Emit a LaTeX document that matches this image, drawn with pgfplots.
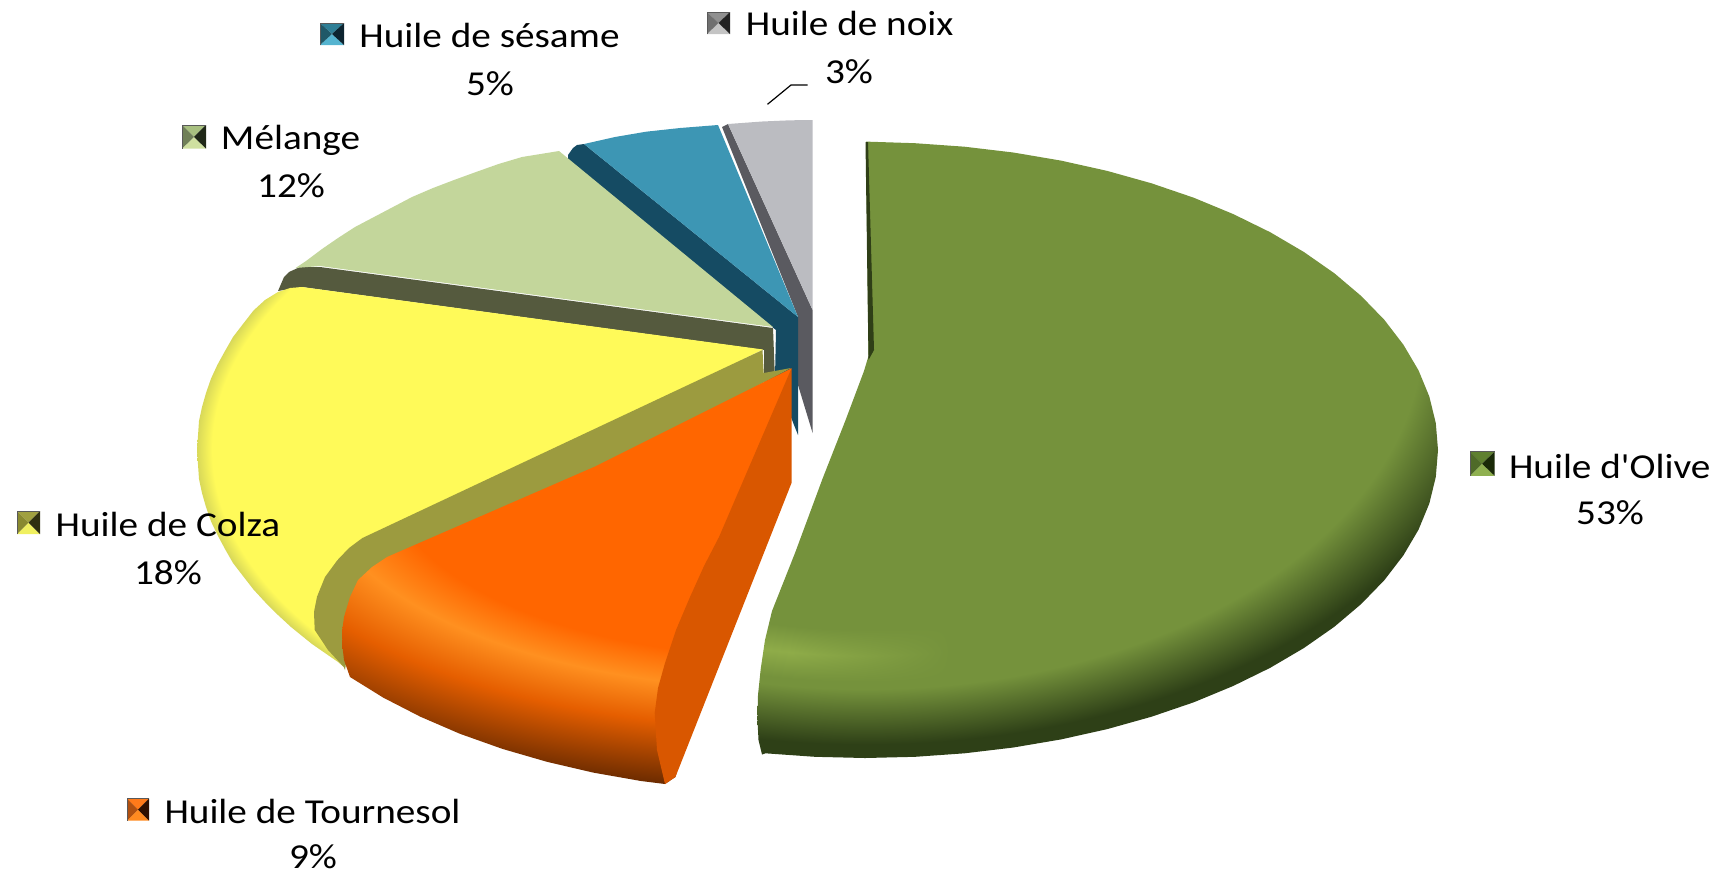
\documentclass[border=0pt]{standalone}
\usepackage{fontspec}
\setmainfont[FakeStretch=1.12,Ligatures=TeXOff]{Carlito}
\usepackage{pgfplots}
\pgfplotsset{compat=1.18}

\definecolor{greytop}{HTML}{BBBCC1}
\definecolor{greyside}{HTML}{5A5A60}
\definecolor{bluetop}{HTML}{3D96B4}
\definecolor{blueside}{HTML}{154B63}
\definecolor{meltop}{HTML}{C3D69B}
\definecolor{melside}{HTML}{555A3E}
\definecolor{yelside}{HTML}{9C9B3F}
\definecolor{orside}{HTML}{D95700}
\definecolor{olside}{HTML}{2F3F17}

% legend key colours: top, bottom, left, right
\definecolor{blue-t}{HTML}{2F7F96}\definecolor{blue-b}{HTML}{55B4D0}\definecolor{blue-l}{HTML}{205868}\definecolor{blue-r}{HTML}{0C2430}
\definecolor{grey-t}{HTML}{909090}\definecolor{grey-b}{HTML}{C4C4C4}\definecolor{grey-l}{HTML}{707070}\definecolor{grey-r}{HTML}{222222}
\definecolor{mel-t}{HTML}{A8C080}\definecolor{mel-b}{HTML}{CFE0A0}\definecolor{mel-l}{HTML}{708058}\definecolor{mel-r}{HTML}{202818}
\definecolor{col-t}{HTML}{A0A040}\definecolor{col-b}{HTML}{F0F060}\definecolor{col-l}{HTML}{8A8A30}\definecolor{col-r}{HTML}{2F2F10}
\definecolor{oli-t}{HTML}{5F8030}\definecolor{oli-b}{HTML}{8FB050}\definecolor{oli-l}{HTML}{4F6A28}\definecolor{oli-r}{HTML}{1A2A08}
\definecolor{ora-t}{HTML}{FF7A1A}\definecolor{ora-b}{HTML}{FF8A20}\definecolor{ora-l}{HTML}{B05010}\definecolor{ora-r}{HTML}{301000}

% the path's box maps to -25..25bp, hence the 2 mul at the start of each
% olive face: dark rim bottom right, light band bottom left
\pgfdeclarefunctionalshading{olivepie}{\pgfpoint{-50bp}{-50bp}}{\pgfpoint{50bp}{50bp}}{}{
  2 mul exch 2 mul exch
  1 index 34.2 add 84.5 div dup mul exch 19.4 sub 60 div dup mul add sqrt
  exch -21.7 exch sub 23.5 div dup 0 lt {pop 0} if dup 1 gt {pop 1} if
  exch dup 0.88 sub abs 0.07 div 1 exch sub dup 0 lt {pop 0} if
  3 -1 roll mul exch
  0.97 sub 0.15 div dup 0 lt {pop 0} if dup 1 gt {pop 1} if
  dup -0.279 mul 0.459 add 2 index 0.10 mul add
  exch dup -0.323 mul 0.573 add 3 index 0.10 mul add
  exch -0.145 mul 0.235 add 3 index 0.05 mul add
  4 -1 roll pop
}
% orange face: highlight band then dark rim
\pgfdeclarefunctionalshading{orangepie}{\pgfpoint{-50bp}{-50bp}}{\pgfpoint{50bp}{50bp}}{}{
  2 mul exch 2 mul exch
  25.5 sub 77.4 div dup mul exch 49.7 sub 155.9 div dup mul add sqrt
  dup 0.58 lt {pop 1 0.4 0}
  {dup 0.68 lt {0.58 sub 0.10 div dup 0 mul 1 add exch dup 0.165 mul 0.4 add exch 0.125 mul}
   {dup 0.80 lt {0.68 sub 0.12 div dup -0.10 mul 1 add exch dup -0.195 mul 0.565 add exch -0.125 mul 0.125 add}
    {0.80 sub 0.20 div dup 1 gt {pop 1} if dup -0.50 mul 0.90 add exch -0.21 mul 0.37 add 0} ifelse} ifelse} ifelse
}
% yellow face: thin darker rim
\pgfdeclarefunctionalshading{yellowpie}{\pgfpoint{-50bp}{-50bp}}{\pgfpoint{50bp}{50bp}}{}{
  2 mul exch 2 mul exch
  7.2 sub 86.6 div dup mul exch 56.5 sub 106.5 div dup mul add sqrt
  0.975 sub 0.025 div dup 0 lt {pop 0} if dup 1 gt {pop 1} if
  dup -0.15 mul 1 add exch dup -0.13 mul 0.98 add exch 0 mul 0.35 add
}

% x1 x2 cx y1 y2 cy colourname
\newcommand{\keybox}[7]{%
  \addplot[face, fill=#7-t] coordinates {(#1,#4) (#2,#4) (#3,#6)};
  \addplot[face, fill=#7-b] coordinates {(#1,#5) (#2,#5) (#3,#6)};
  \addplot[face, fill=#7-l] coordinates {(#1,#4) (#1,#5) (#3,#6)};
  \addplot[face, fill=#7-r] coordinates {(#2,#4) (#2,#5) (#3,#6)};
  \addplot[black!65, line width=0.5pt, forget plot] coordinates {(#1,#5) (#1,#4) (#2,#4)};}

\begin{document}
\begin{tikzpicture}
\begin{axis}[
    at={(0,0)}, anchor=south west,
    scale only axis,
    width=863.5pt,
    height=437.5pt,
    xmin=0, xmax=1727,
    ymin=0, ymax=875,
    y dir=reverse,
    hide axis,
    clip=false,
    face/.style={draw=none, forget plot},
]

% Huile de noix
\addplot[face, fill=greyside] coordinates {(722,127) (728,124) (812.6,310) (812.6,433) (798,385) (798,317)};
\addplot[face, fill=greytop] coordinates {(728,124) (762,121.5) (790,120.3) (812.6,120) (812.6,310)};

% Huile de sesame
\addplot[face, fill=blueside] coordinates {(568,155) (573,148) (577,145) (584,144) (798,317) (798,435) (775,377) (776,330) (568,160)};
\addplot[face, fill=bluetop] coordinates {(584,144) (615,137) (646,131.7) (680,128) (718,125) (798,317)};

% Melange
\addplot[face, fill=melside] coordinates {(278,291) (284,277) (289,272) (300,267) (320,267) (773,328) (775,380) (764,382) (764,350) (302,287)};
\addplot[face, fill=meltop] coordinates {(559,151) (522,157) (498.5,164) (476,172) (454,180) (433,188) (412,197) (393,207) (374,217) (355,227) (338,238) (322,249) (306,261) (295.6,268) (320,266) (773,327)};

% Huile de Colza
\addplot[face, shade, shading=yellowpie] coordinates {(763,349.5) (302,287) (290,288) (278,292) (265,300) (253.5,310.5) (243,324) (233,337) (225,351) (217.5,364.6) (211,378.6) (206,393) (202,407) (199,421) (198,435.6) (197,450) (198,464.4) (199,479) (202,493) (206,507) (211,521.4) (217.5,535) (225,549) (233,563) (243,576) (253.5,589.5) (265,602) (278,615) (291,627) (312,644) (338,662) (343.8,667) (330,630) (337,560)};
\addplot[face, fill=yelside] coordinates {(762.5,350) (763.7,373) (791,368) (594.6,472) (387,562) (358,585) (345,670) (343.8,667) (328,650) (314.7,630) (314,612) (317,596.7) (325,577) (337.5,560) (349,548) (362.4,538)};

% Huile de Tournesol
\addplot[face, shade, shading=orangepie] coordinates {(791.5,368.3) (594.6,466.7) (387,557) (372,567) (358,580) (350,597) (344,617) (342,632) (342.5,647) (344,660) (350,677) (383.4,697.7) (420.4,716.7) (460,733.8) (502.5,748.9) (547,761.8) (593.3,772.6) (641,781) (665,784) (675.4,777)};
\addplot[face, fill=orside] coordinates {(791.5,368.3) (791.5,483) (675.4,777) (665,784) (657,750) (654.7,713) (658,688) (665,663) (676,630) (690,597) (704,566) (719,537)};

% Huile d'Olive
\addplot[face, shade, shading=olivepie] coordinates {(866,141.6) (915,143.2) (964.5,146.7) (1013.3,152.5) (1061,160.6) (1107.2,170.9) (1151.5,183.3) (1193.7,197.7) (1233.3,214.1) (1270.2,232.2) (1303.9,252) (1334.4,273.3) (1361.2,296) (1384.3,319.8) (1403.4,344.7) (1418.5,370.3) (1429.3,396.5) (1435.8,423.1) (1438,450) (1435.8,476.9) (1429.3,503.5) (1418.5,529.7) (1403.4,555.3) (1384.3,580.2) (1361.2,604) (1334.4,626.7) (1303.9,648) (1270.2,667.8) (1233.3,685.9) (1193.7,702.3) (1151.5,716.7) (1107.2,729.1) (1061,739.4) (1013.3,747.5) (964.5,753.3) (915,756.8) (865,758) (815,756.8) (765.5,753.3) (762,754.5) (758.5,740) (757.4,719) (758,695) (760.7,669) (765,640) (772,611) (795,553) (822.6,478.5) (845.6,420) (864,371) (868.5,356)};
\addplot[face, fill=olside] coordinates {(865.5,142) (868,142) (874,350) (868.5,360)};

% leader line
\addplot[black, line width=0.6pt, forget plot] coordinates {(767.5,104.3) (791,85) (807.7,85)};

% legend keys
\keybox{320}{344}{332}{23}{45}{34}{blue}
\keybox{707}{730}{718.5}{12}{34}{23}{grey}
\keybox{182}{206}{194}{125}{148.7}{136.8}{mel}
\keybox{17}{40}{28.5}{511}{534}{522.5}{col}
\keybox{1470}{1494.6}{1482}{451.6}{475.8}{463.7}{oli}
\keybox{127}{149}{138}{798.5}{820.5}{809.5}{ora}

\path[every node/.style={font=\fontsize{17.5}{20}\selectfont, anchor=base, inner sep=0pt, text=black}]
  (axis cs:489.5,47.5) node {Huile de sésame}
  (axis cs:490,95) node {5\%}
  (axis cs:849.7,35) node {Huile de noix}
  (axis cs:849,83) node {3\%}
  (axis cs:290.5,149) node {Mélange}
  (axis cs:291,197) node {12\%}
  (axis cs:168,536) node {Huile de Colza}
  (axis cs:168,584) node {18\%}
  (axis cs:1609.7,478) node {Huile d'Olive}
  (axis cs:1610,524) node {53\%}
  (axis cs:312.5,823) node {Huile de Tournesol}
  (axis cs:313,868.5) node {9\%};
\end{axis}
\pgfresetboundingbox
\path (0,0) rectangle (863.5pt,437.5pt);
\end{tikzpicture}
\end{document}
